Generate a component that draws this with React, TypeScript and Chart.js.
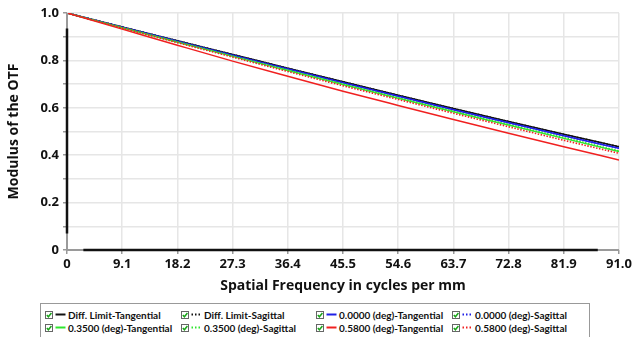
import React, { useEffect, useRef } from "react";
import { Chart, registerables } from "chart.js";

Chart.register(...registerables);

const freq = [0, 9.1, 18.2, 27.3, 36.4, 45.5, 54.6, 63.7, 72.8, 81.9, 91.0];
const xTickLabels = ["0", "9.1", "18.2", "27.3", "36.4", "45.5", "54.6", "63.7", "72.8", "81.9", "91.0"];

const diffTan = [1, 0.941, 0.883, 0.825, 0.767, 0.71, 0.653, 0.597, 0.542, 0.488, 0.436];
const diffSag = [1, 0.941, 0.883, 0.825, 0.767, 0.71, 0.653, 0.597, 0.542, 0.488, 0.436];
const tan00 = [1, 0.94, 0.881, 0.822, 0.764, 0.706, 0.649, 0.592, 0.537, 0.482, 0.429];
const sag00 = [1, 0.94, 0.881, 0.822, 0.764, 0.706, 0.649, 0.592, 0.537, 0.482, 0.429];
const tan35 = [1, 0.938, 0.877, 0.817, 0.757, 0.698, 0.64, 0.583, 0.527, 0.471, 0.415];
const sag35 = [1, 0.938, 0.878, 0.818, 0.759, 0.7, 0.642, 0.585, 0.529, 0.474, 0.418];
const tan58 = [1, 0.932, 0.864, 0.797, 0.733, 0.67, 0.61, 0.551, 0.493, 0.436, 0.38];
const sag58 = [1, 0.937, 0.875, 0.814, 0.753, 0.693, 0.635, 0.577, 0.52, 0.463, 0.408];

const seriesNames = [
  "Diff. Limit-Tangential",
  "Diff. Limit-Sagittal",
  "0.0000 (deg)-Tangential",
  "0.0000 (deg)-Sagittal",
  "0.3500 (deg)-Tangential",
  "0.3500 (deg)-Sagittal",
  "0.5800 (deg)-Tangential",
  "0.5800 (deg)-Sagittal",
];
const seriesValues = [diffTan, diffSag, tan00, sag00, tan35, sag35, tan58, sag58];
const seriesColors = ["#111111", "#111111", "#1f1fe6", "#1f1fe6", "#2ee62e", "#2ee62e", "#f02020", "#f02020"];
const seriesDashed = [false, true, false, true, false, true, false, true];
// draw order: back to front
const drawOrder = [7, 6, 5, 4, 3, 2, 1, 0];

const FONT = "'Open Sans', 'Noto Sans', sans-serif";
const LEGEND_FONT = "Lato, 'Open Sans', sans-serif";

const axisPlugin = {
  id: "axisLines",
  afterDraw(chart: any) {
    const { ctx, chartArea } = chart;
    const x = chart.scales.x;
    const y = chart.scales.y;
    ctx.save();
    ctx.lineWidth = 2;
    ctx.strokeStyle = "#9a9a9a";
    ctx.beginPath();
    ctx.moveTo(chartArea.left, chartArea.top);
    ctx.lineTo(chartArea.left, chartArea.bottom);
    ctx.lineTo(chartArea.right, chartArea.bottom);
    ctx.stroke();
    ctx.lineWidth = 2.5;
    ctx.strokeStyle = "#111";
    ctx.beginPath();
    ctx.moveTo(chartArea.left, y.getPixelForValue(0.07));
    ctx.lineTo(chartArea.left, y.getPixelForValue(0.935));
    ctx.moveTo(x.getPixelForValue(2.7), chartArea.bottom);
    ctx.lineTo(x.getPixelForValue(87.5), chartArea.bottom);
    ctx.stroke();
    ctx.restore();
  },
};

function CheckBox() {
  return (
    <svg width="8" height="8" viewBox="0 0 8 8" style={{ display: "block", flex: "none" }}>
      <rect x="0.5" y="0.5" width="7" height="7" fill="#fff" stroke="#666" strokeWidth="1" />
      <path d="M1.8 4 L3.4 5.8 L6.4 2" fill="none" stroke="#1aa51a" strokeWidth="1.5" />
    </svg>
  );
}

function Sample({ color, dashed }: { color: string; dashed: boolean }) {
  return (
    <svg width="11" height="9" viewBox="0 0 11 9" style={{ display: "block", flex: "none", margin: "0 2px 0 2px" }}>
      <line
        x1="0.5"
        y1="4.5"
        x2="10.5"
        y2="4.5"
        stroke={color}
        strokeWidth="2"
        strokeDasharray={dashed ? "1.5 2" : undefined}
      />
    </svg>
  );
}

export default function App() {
  const canvasRef = useRef<HTMLCanvasElement | null>(null);

  useEffect(() => {
    document.body.style.margin = "0";
    document.body.style.background = "#fff";
    const canvas = canvasRef.current;
    if (!canvas) return;
    const datasets = drawOrder.map((i) => ({
      label: seriesNames[i],
      data: freq.map((f, k) => ({ x: f, y: seriesValues[i][k] })),
      borderColor: seriesColors[i],
      backgroundColor: seriesColors[i],
      borderWidth: seriesDashed[i] ? 1.6 : 1.5,
      borderDash: seriesDashed[i] ? [1.5, 1.5] : [],
      pointRadius: 0,
      cubicInterpolationMode: "monotone" as const,
      fill: false,
    }));
    const chart = new Chart(canvas, {
      type: "line",
      data: { datasets },
      plugins: [axisPlugin],
      options: {
        animation: false,
        responsive: false,
        maintainAspectRatio: false,
        layout: { padding: { top: 13, right: 14, left: 0, bottom: 0 } },
        plugins: { legend: { display: false }, tooltip: { enabled: false } },
        scales: {
          x: {
            type: "linear",
            min: 0,
            max: 91,
            afterBuildTicks: (scale: any) => {
              scale.ticks = freq.map((v) => ({ value: v }));
            },
            afterFit: (scale: any) => {
              scale.height = 44;
            },
            ticks: {
              autoSkip: false,
              maxRotation: 0,
              color: "#111",
              padding: 2,
              font: { family: FONT, size: 13, weight: "bold" },
              callback: (_v: any, i: number) => xTickLabels[i],
            },
            grid: { color: "#e6e6e6", lineWidth: 1.5, tickLength: 4, tickColor: "#999" },
            border: { display: false },
            title: {
              display: true,
              text: "Spatial Frequency in cycles per mm",
              color: "#111",
              font: { family: FONT, size: 14, weight: "bold" },
              padding: { top: 3, bottom: 0 },
            },
          },
          y: {
            type: "linear",
            min: 0,
            max: 1,
            afterBuildTicks: (scale: any) => {
              scale.ticks = [0, 0.1, 0.2, 0.3, 0.4, 0.5, 0.6, 0.7, 0.8, 0.9, 1.0].map((v) => ({ value: v }));
            },
            afterFit: (scale: any) => {
              scale.width = 67;
            },
            ticks: {
              color: "#111",
              padding: 4,
              font: { family: FONT, size: 13, weight: "bold" },
              callback: (v: any, i: number) => (i % 2 === 0 ? (v === 0 ? "0" : Number(v).toFixed(1)) : ""),
            },
            grid: { color: "#e6e6e6", lineWidth: 1.5, tickLength: 4, tickColor: "#999" },
            border: { display: false },
            title: {
              display: true,
              text: "Modulus of the OTF",
              color: "#111",
              font: { family: FONT, size: 14, weight: "bold" },
              padding: { top: 6, bottom: 0 },
            },
          },
        },
      },
    });
    return () => chart.destroy();
  }, []);

  const legendOrder = [0, 1, 2, 3, 4, 5, 6, 7];
  const colLefts = [4, 140, 275, 411];

  return (
    <div style={{ position: "relative", width: 634, height: 337, background: "#fff", overflow: "hidden" }}>
      <canvas ref={canvasRef} width={634} height={294} style={{ display: "block", width: 634, height: 294 }} />
      <div
        style={{
          position: "absolute",
          left: 40,
          top: 303,
          width: 550,
          height: 36,
          border: "1px solid #999",
          boxSizing: "border-box",
          fontFamily: LEGEND_FONT,
          fontWeight: "bold",
          fontSize: 10,
          color: "#111",
        }}
      >
        {legendOrder.map((i) => {
          const row = Math.floor(i / 4);
          const col = i % 4;
          return (
            <div
              key={i}
              style={{
                position: "absolute",
                left: colLefts[col],
                top: 4 + row * 13,
                height: 13,
                display: "flex",
                alignItems: "center",
                whiteSpace: "nowrap",
              }}
            >
              <CheckBox />
              <Sample color={seriesColors[i]} dashed={seriesDashed[i]} />
              <span>{seriesNames[i]}</span>
            </div>
          );
        })}
      </div>
    </div>
  );
}
